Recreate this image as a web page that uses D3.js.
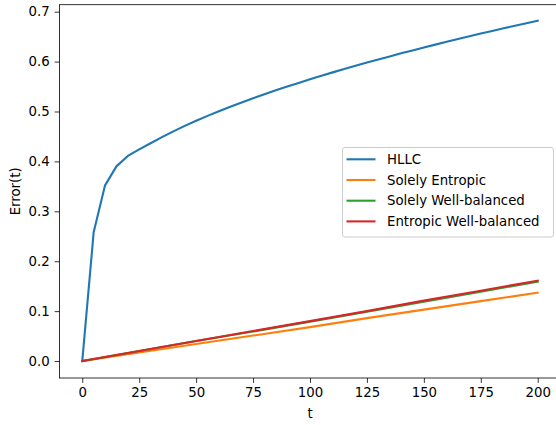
<!DOCTYPE html>
<html>
<head>
<meta charset="utf-8">
<script src="https://cdn.jsdelivr.net/npm/d3@7/dist/d3.min.js"></script>
<style>
  html, body { margin: 0; padding: 0; background: #fff; }
  svg { display: block; }
  text { font-family: "DejaVu Sans", sans-serif; fill: #000; }
</style>
</head>
<body>
<svg id="chart" width="556" height="425"></svg>
<script>
// Error over time for four numerical schemes
const hllcT = [0, 5, 10, 15, 20, 25, 30, 35, 40, 45, 50, 55, 60, 65, 70, 75, 80, 85, 90, 95, 100,
               105, 110, 115, 120, 125, 130, 135, 140, 145, 150, 155, 160, 165, 170, 175, 180, 185, 190, 195, 200];
const hllcErr = [0.0000, 0.2580, 0.3520, 0.3900, 0.4110, 0.4240, 0.4364, 0.4486, 0.4602, 0.4711, 0.4814,
                 0.4912, 0.5006, 0.5095, 0.5182, 0.5265, 0.5345, 0.5424, 0.5499, 0.5573, 0.5645,
                 0.5715, 0.5784, 0.5850, 0.5916, 0.5980, 0.6043, 0.6104, 0.6165, 0.6224, 0.6283,
                 0.6340, 0.6396, 0.6452, 0.6507, 0.6561, 0.6614, 0.6667, 0.6719, 0.6770, 0.6820];

const linT = [0, 25, 50, 75, 100, 125, 150, 175, 200];
const entropicErr = [0.000, 0.017, 0.034, 0.051, 0.068, 0.086, 0.103, 0.120, 0.137];
const wellBalancedErr = [0.000, 0.020, 0.040, 0.059, 0.079, 0.099, 0.119, 0.139, 0.159];
const entropicWBErr = [0.000, 0.020, 0.040, 0.060, 0.080, 0.100, 0.121, 0.141, 0.161];

const seriesNames = ["HLLC", "Solely Entropic", "Solely Well-balanced", "Entropic Well-balanced"];
const seriesColors = ["#1f77b4", "#ff7f0e", "#2ca02c", "#d62728"];

const xTicks = [0, 25, 50, 75, 100, 125, 150, 175, 200];
const yTicks = [0.0, 0.1, 0.2, 0.3, 0.4, 0.5, 0.6, 0.7];

const series = [
  { t: hllcT, e: hllcErr },
  { t: linT, e: entropicErr },
  { t: linT, e: wellBalancedErr },
  { t: linT, e: entropicWBErr }
];

const svg = d3.select("#chart");
const plotLeft = 59.5, plotTop = 4.7, plotW = 501, plotH = 373.3;
const fs = 13.3;

const x = d3.scaleLinear().domain([-10, 210]).range([plotLeft, plotLeft + plotW]);
const y = d3.scaleLinear().domain([-0.034, 0.714]).range([plotTop + plotH, plotTop]);

// series lines
const line = d3.line().x(d => x(d[0])).y(d => y(d[1]));
series.forEach((s, i) => {
  svg.append("path")
    .datum(s.t.map((t, k) => [t, s.e[k]]))
    .attr("d", line)
    .attr("fill", "none")
    .attr("stroke", seriesColors[i])
    .attr("stroke-width", 2.1)
    .attr("stroke-linejoin", "round")
    .attr("stroke-linecap", "square");
});

// axes
const xAxis = d3.axisBottom(x).tickValues(xTicks).tickFormat(d3.format("d"))
  .tickSizeInner(4.9).tickSizeOuter(0).tickPadding(4.9);
const yAxis = d3.axisLeft(y).tickValues(yTicks).tickFormat(d3.format(".1f"))
  .tickSizeInner(4.9).tickSizeOuter(0).tickPadding(4.9);

const gx = svg.append("g").attr("transform", `translate(0,${plotTop + plotH})`).call(xAxis);
const gy = svg.append("g").attr("transform", `translate(${plotLeft},0)`).call(yAxis);
[gx, gy].forEach(g => {
  g.select(".domain").remove();
  g.selectAll(".tick line").attr("stroke", "#000").attr("stroke-width", 0.8);
  g.selectAll(".tick text").attr("font-size", fs).attr("font-family", "DejaVu Sans").attr("fill", "#000");
});

// frame
svg.append("rect")
  .attr("x", plotLeft).attr("y", plotTop)
  .attr("width", plotW).attr("height", plotH)
  .attr("fill", "none").attr("stroke", "#000").attr("stroke-width", 0.8);

// axis labels
svg.append("text")
  .attr("x", x(100)).attr("y", 418)
  .attr("text-anchor", "middle").attr("font-size", fs)
  .text("t");
svg.append("text")
  .attr("transform", `translate(20,${plotTop + plotH / 2}) rotate(-90)`)
  .attr("text-anchor", "middle").attr("font-size", fs)
  .text("Error(t)");

// legend
const lg = svg.append("g");
lg.append("rect")
  .attr("x", 342.5).attr("y", 147.5).attr("width", 211).attr("height", 89.5)
  .attr("rx", 2.5).attr("ry", 2.5)
  .attr("fill", "#fff").attr("fill-opacity", 0.8)
  .attr("stroke", "#cccccc").attr("stroke-width", 1);
const rowY = [159.3, 180, 200.7, 221.4];
seriesNames.forEach((name, i) => {
  lg.append("line")
    .attr("x1", 346.5).attr("x2", 375.5)
    .attr("y1", rowY[i]).attr("y2", rowY[i])
    .attr("stroke", seriesColors[i]).attr("stroke-width", 2.1);
  lg.append("text")
    .attr("x", 387).attr("y", rowY[i]).attr("dy", "0.35em")
    .attr("font-size", fs)
    .text(name);
});
</script>
</body>
</html>
